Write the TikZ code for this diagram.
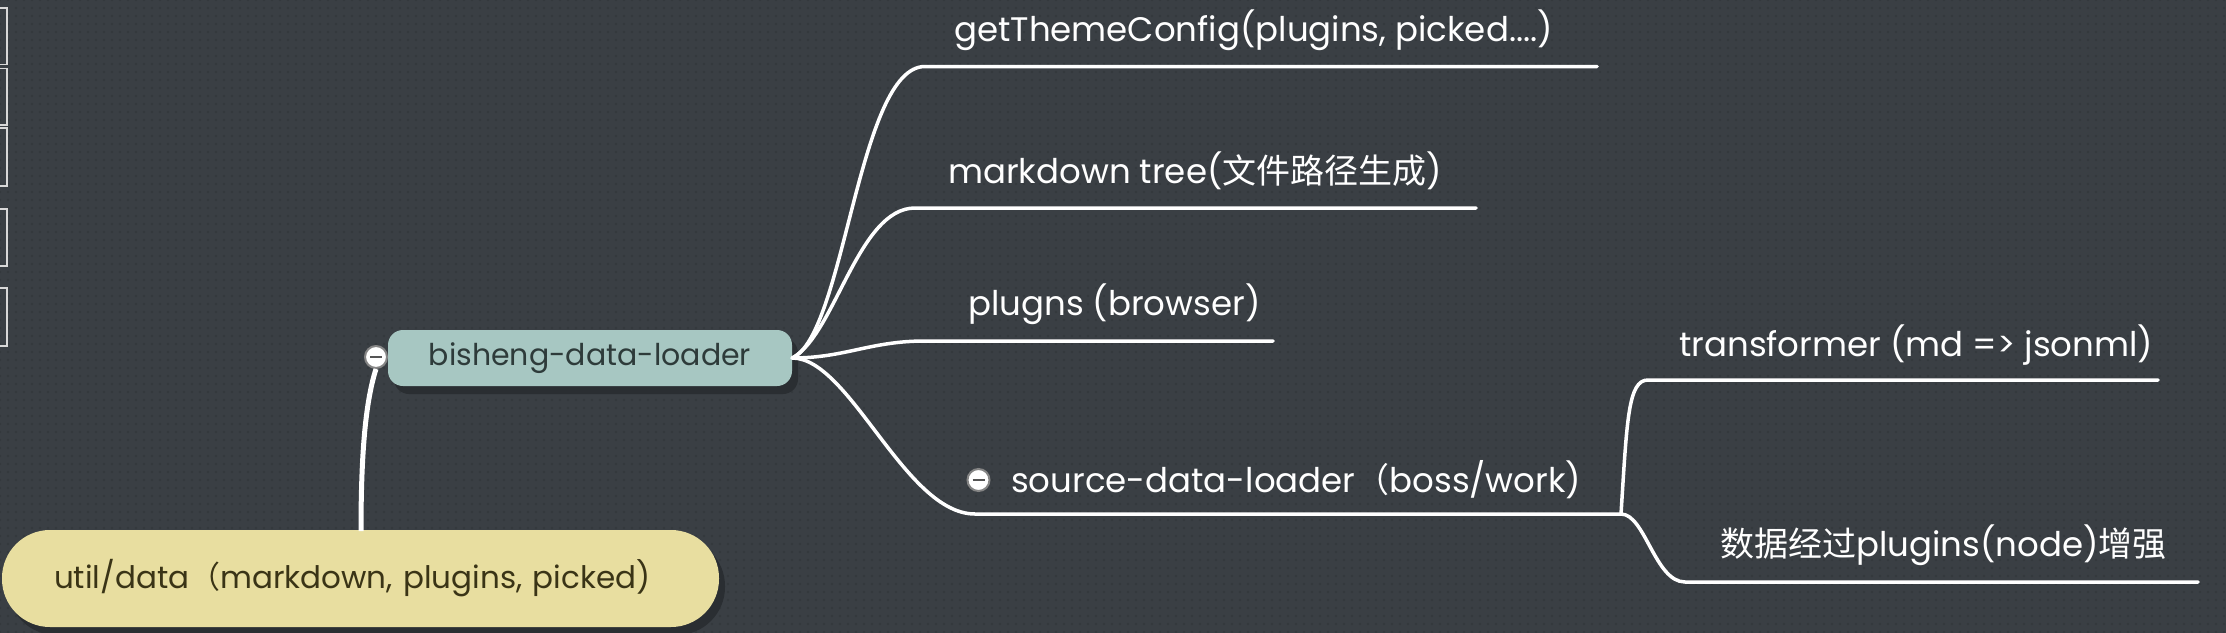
\documentclass[tikz,border=0pt]{standalone}
\usepackage{fontspec}
\setmainfont{Poppins}
\newfontfamily\cjk{Noto Sans CJK SC}
\usetikzlibrary{patterns,shadows}
\definecolor{bg}{HTML}{3A3F44}
\definecolor{dotc}{HTML}{32373B}
\definecolor{shadowcol}{HTML}{2A2E32}
\definecolor{bishfill}{HTML}{A7C7C2}
\definecolor{bishtext}{HTML}{2E3B3A}
\definecolor{utilfill}{HTML}{E8DEA0}
\definecolor{utiltext}{HTML}{3A3416}
\definecolor{ringgray}{HTML}{858585}
\definecolor{minusgray}{HTML}{555555}
\definecolor{leftline}{HTML}{D8D8D8}
\pgfdeclarepatternformonly{bgdots}{\pgfqpoint{-2pt}{-2pt}}{\pgfqpoint{2pt}{2pt}}{\pgfqpoint{8pt}{8pt}}{\pgfpathcircle{\pgfqpoint{0pt}{0pt}}{1.2pt}\pgfusepath{fill}}
\begin{document}
\begin{tikzpicture}[x=1pt,y=-1pt,
  lbl/.style={anchor=west, inner sep=0pt, text=white, font=\fontsize{34}{40}\selectfont},
  conn/.style={draw=white, line width=3.5pt, line cap=round},
  minusc/.style={circle, fill=white, draw=ringgray, line width=2pt, minimum size=22pt, inner sep=0pt},
  topic/.style={inner ysep=0pt,
    drop shadow={shadow xshift=6pt, shadow yshift=-8pt, opacity=1, fill=shadowcol}},
  leftbox/.style={draw=leftline, line width=1.5pt}]
\useasboundingbox (0,0) rectangle (2226,632);
\fill[bg] (-8,-8) rectangle (2234,640);
\fill[pattern=bgdots, pattern color=dotc] (-8,-8) rectangle (2234,640);
% partial boxes at the left edge
\foreach \a/\b in {8/64.5, 68.5/125, 128/186, 209/266, 288/346}
  \draw[leftbox] (-10,\a) rectangle (7,\b);
% main topics
\node[topic, fill=utilfill, text=utiltext, rounded corners=48pt, inner xsep=52pt, text width=613pt, align=left, minimum height=97pt, font=\fontsize{31}{36}\selectfont] (util) at (360.5,578.5) {util/data{\cjk （}markdown, plugins, picked)};
\node[topic, fill=bishfill, text=bishtext, rounded corners=15pt, inner xsep=0pt, minimum width=404pt, minimum height=56pt, font=\fontsize{30}{35}\selectfont] (bish) at (590,358) {bisheng-data-loader};
% collapse marker and link to root
\node[minusc] (m1) at (376,357) {};
\coordinate (utop) at (361,531);
\draw[white, line width=5pt] (m1.south) .. controls (366,400) and (361,450) .. (utop);
\draw[minusgray, line width=2.5pt] ([xshift=-6pt]m1.center) -- ([xshift=6pt]m1.center);
% branch ends
\coordinate (gEnd) at (1597,66.5);
\coordinate (mEnd) at (1476,208);
\coordinate (pEnd) at (1273,341);
\coordinate (sEnd) at (1621,514);
\coordinate (tEnd) at (2158,380);
\coordinate (dEnd) at (2198,582);
% connectors from bisheng-data-loader
\draw[conn] (bish.east) .. controls (845,335) and (858,66.5) .. (925,66.5) -- (gEnd);
\draw[conn] (bish.east) .. controls (835,335) and (858,208) .. (915,208) -- (mEnd);
\draw[conn] (bish.east) .. controls (845,358) and (870,341) .. (925,341) -- (pEnd);
\draw[conn] (bish.east) .. controls (850,358) and (905,514) .. (975,514) -- (sEnd);
% connectors from source-data-loader
\draw[conn] (sEnd) .. controls (1627,420) and (1628,380) .. (1648,380) -- (tEnd);
\draw[conn] (sEnd) .. controls (1645,514) and (1655,582) .. (1685,582) -- (dEnd);
% labels
\node[lbl] (g) at (954,30) {getThemeConfig(plugins, picked....)};
\node[lbl] (m) at (948,171) {markdown tree({\cjk 文件路径生成})};
\node[lbl] (p) at (968,304) {plugns (browser)};
\node[minusc] (m2) at (978.5,480) {};
\draw[minusgray, line width=2.5pt] ([xshift=-6pt]m2.center) -- ([xshift=6pt]m2.center);
\node[lbl] (s) at (1011,480) {source-data-loader{\cjk （}boss/work)};
\node[lbl] (t) at (1679,345) {transformer (md => jsonml)};
\node[lbl] (d) at (1720,545) {{\cjk 数据经过}plugins(node){\cjk 增强}};
\end{tikzpicture}
\end{document}
